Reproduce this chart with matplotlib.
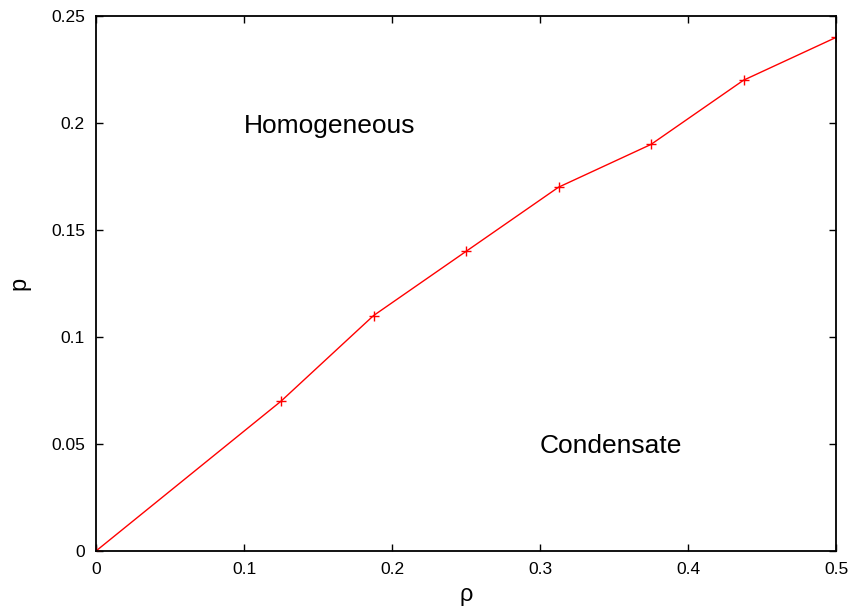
import matplotlib
matplotlib.use('Agg')
import matplotlib.pyplot as plt

plt.rcParams['font.family'] = ['Liberation Sans', 'DejaVu Sans']

# phase boundary data
rho = [0, 0.125, 0.1875, 0.25, 0.3125, 0.375, 0.4375, 0.5]
p = [0, 0.07, 0.11, 0.14, 0.17, 0.19, 0.22, 0.24]
xticks = [0, 0.1, 0.2, 0.3, 0.4, 0.5]
yticks = [0, 0.05, 0.1, 0.15, 0.2, 0.25]

fig = plt.figure(figsize=(8.49, 6.07), dpi=100)
ax = fig.add_axes([0.1131, 0.0923, 0.8716, 0.8813])
ax.plot(rho, p, color='red', linewidth=1, marker='+', markersize=7, markeredgewidth=1)

ax.set_xlim(0, 0.5)
ax.set_ylim(0, 0.25)
ax.set_xticks(xticks)
ax.set_xticklabels(['0', '0.1', '0.2', '0.3', '0.4', '0.5'])
ax.set_yticks(yticks)
ax.set_yticklabels(['0', '0.05', '0.1', '0.15', '0.2', '0.25'])
ax.tick_params(direction='in', top=True, right=True, length=5, width=1, labelsize=12.5, pad=8)
for s in ax.spines.values():
    s.set_linewidth(1.3)

ax.set_xlabel('ρ', fontsize=17, labelpad=5)
ax.set_ylabel('p', fontsize=17, labelpad=15)

ax.text(0.1, 0.1985, 'Homogeneous', fontsize=19, va='center', ha='left')
ax.text(0.3, 0.049, 'Condensate', fontsize=19, va='center', ha='left')

fig.savefig('out.png', dpi=100)
